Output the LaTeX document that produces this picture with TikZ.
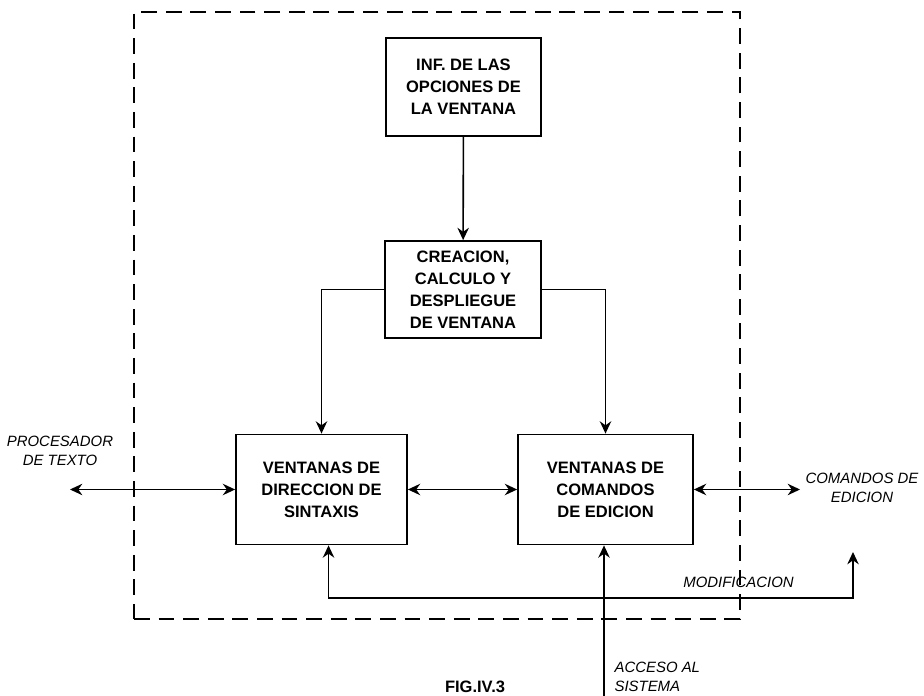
\documentclass[tikz,border=0pt]{standalone}
\usepackage{fontspec}
\setmainfont{Liberation Sans}
\usetikzlibrary{positioning,arrows.meta}

\begin{document}
\begin{tikzpicture}[
  every node/.style={font=\fontsize{9.4}{12.5}\selectfont\bfseries},
  blk/.style={draw,line width=1pt,align=center,inner sep=3pt},
  lbl/.style={font=\fontsize{8.5}{11}\selectfont\itshape,align=center,inner sep=1pt},
  >={Stealth[length=7pt,width=6.5pt]},
  line width=0.9pt
]
  \useasboundingbox (0,0) rectangle (18.48,13.92);

  % marco del sistema
  \node[draw,dash pattern=on 9pt off 5pt,line width=0.9pt,
        minimum width=12.12cm,minimum height=12.14cm] (frame) at (8.74,7.61) {};

  \node[blk,minimum width=3.1cm,minimum height=1.96cm]  (inf) at (9.27,12.18) {INF. DE LAS\\ OPCIONES DE\\ LA VENTANA};
  \node[blk,minimum width=3.12cm,minimum height=1.94cm] (cre) at (9.26,8.13)  {CREACION,\\ CALCULO Y\\ DESPLIEGUE\\ DE VENTANA};

  \node[blk,minimum width=3.42cm,minimum height=2.2cm] (sin) at (6.43,4.13)  {VENTANAS DE\\ DIRECCION DE\\ SINTAXIS};
  \node[blk,minimum width=3.5cm,minimum height=2.2cm]  (com) at (12.11,4.13) {VENTANAS DE\\ COMANDOS\\ DE EDICION};

  \coordinate (proc) at (1.4,4.13);
  \coordinate (cmd)  at (16.0,4.13);
  \coordinate (modc) at (17.06,1.96);
  \coordinate (mod)  at (17.06,2.88);
  \coordinate (acc)  at (12.08,0);

  \node[lbl] (proclbl) at (1.2,4.9)  {PROCESADOR\\ DE TEXTO};
  \node[lbl] (cmdlbl)  at (17.24,4.16) {COMANDOS DE\\ EDICION};
  \node[lbl] (modlbl)  at (14.77,2.28) {MODIFICACION};
  \node[lbl,align=left,anchor=west] (acclbl) at (12.24,0.38) {ACCESO AL\\ SISTEMA};
  \node[font=\fontsize{9.4}{11}\selectfont\bfseries] (fig) at (9.5,0.18) {FIG.IV.3};

  \draw[->] (inf) -- (cre);
  \draw[->] (cre.west) -| (sin.north);
  \draw[->] (cre.east) -| (com.north);
  \draw[<->] (sin) -- (com);
  \draw[<->] (proc) -- (sin);
  \draw[<->] (com) -- (cmd);
  \draw[<->] ([xshift=4pt]sin.south) |- (modc) -- (mod);
  \draw[->] (acc) -- (acc |- com.south);
\end{tikzpicture}
\end{document}
